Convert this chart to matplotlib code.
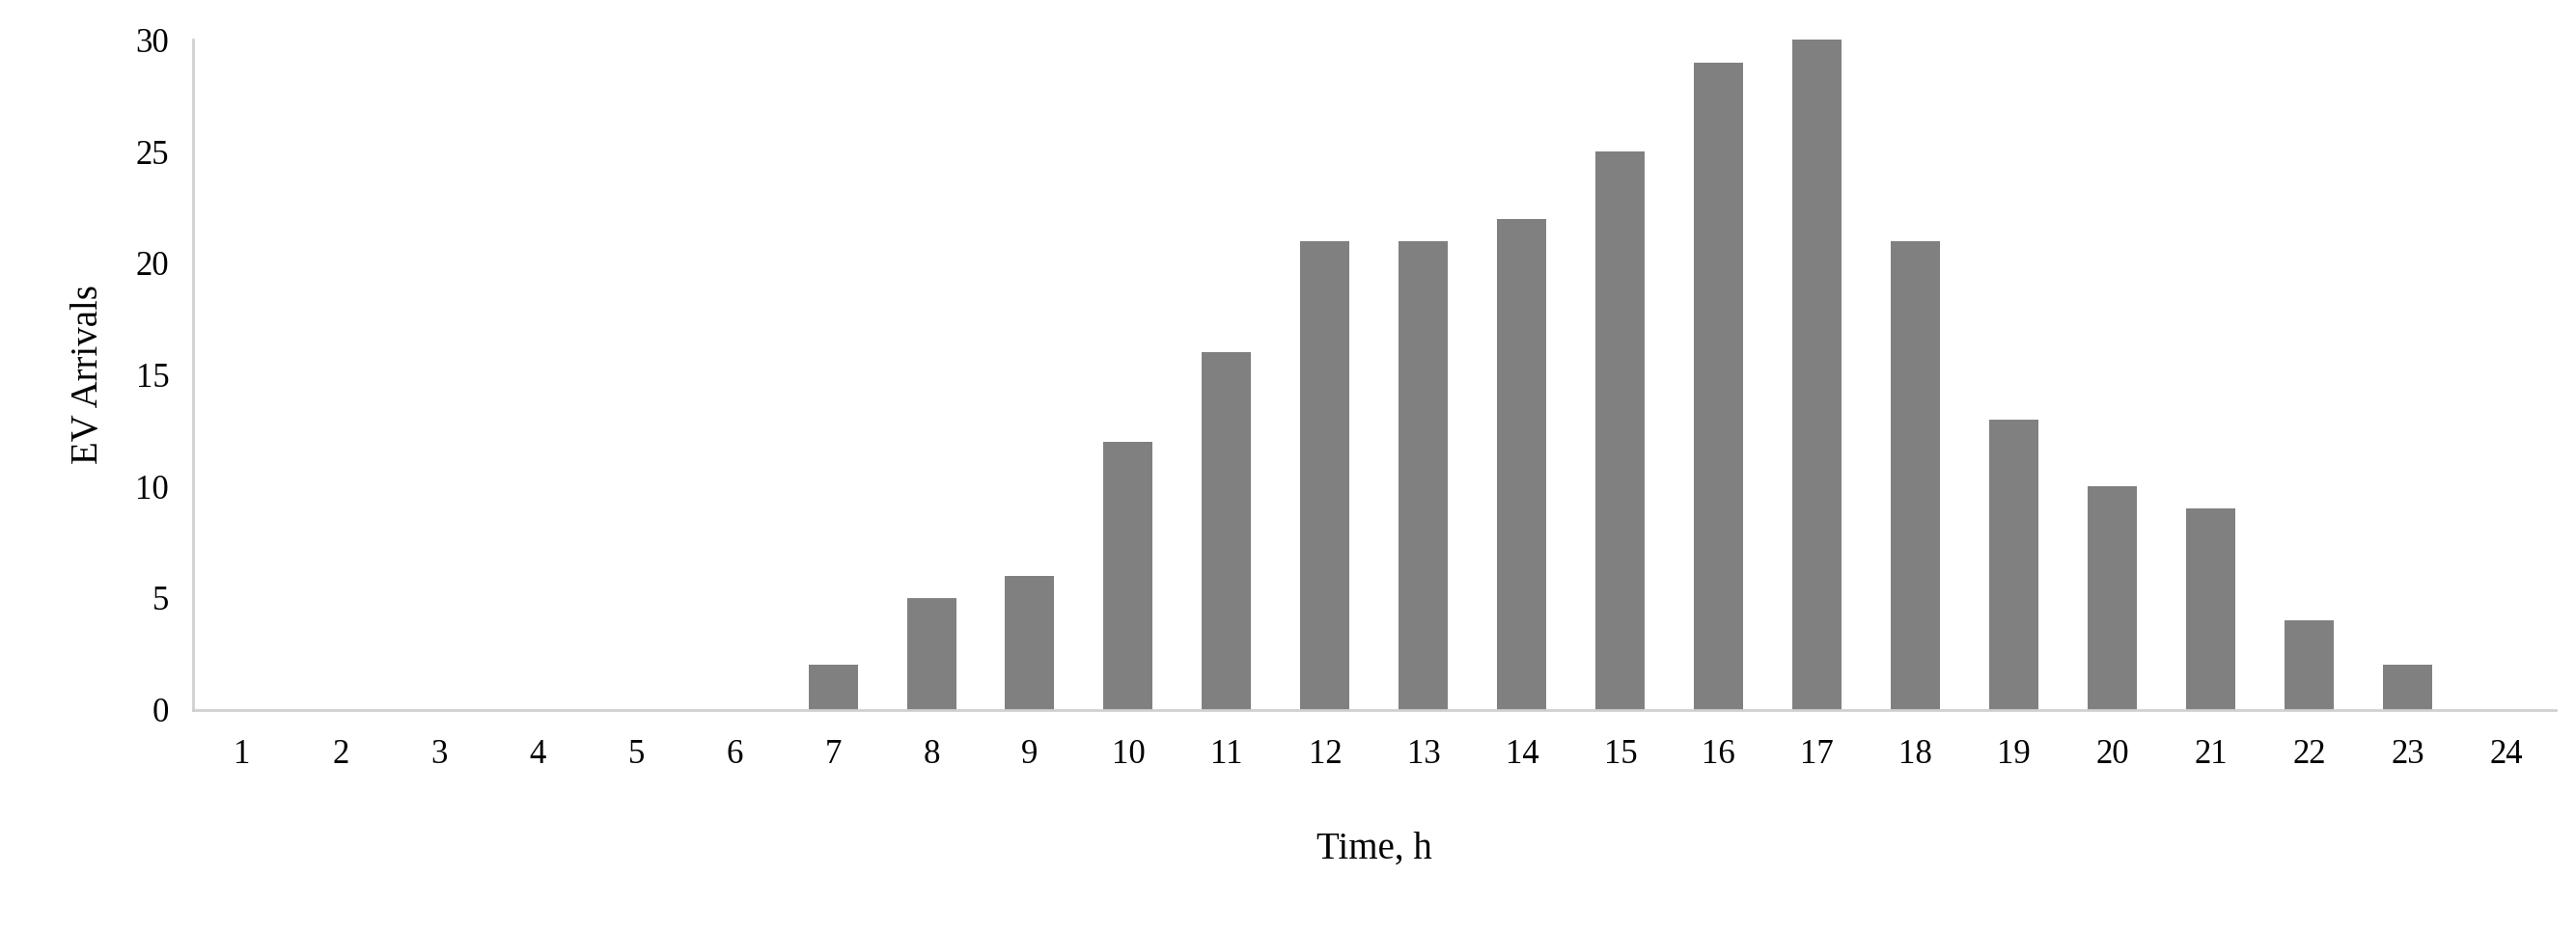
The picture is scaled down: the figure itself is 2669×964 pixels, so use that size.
import matplotlib
matplotlib.use("Agg")
import matplotlib.pyplot as plt

hours = list(range(1, 25))
arrivals = [0,0,0,0,0,0,2,5,6,12,16,21,21,22,25,29,30,21,13,10,9,4,2,0]
yticks = [0,5,10,15,20,25,30]

plt.rcParams['font.family'] = ['Liberation Serif', 'DejaVu Serif']
fig = plt.figure(figsize=(26.69, 9.64), dpi=100)
ax = fig.add_axes([0.075, 0.237, 0.917, 0.72])
ax.bar(hours, arrivals, width=0.5, color='#808080')
ax.set_xlim(0.5, 24.5)
ax.set_ylim(0, 30)
ax.set_xticks(hours)
ax.set_xticklabels([str(h) for h in hours])
ax.set_yticks(yticks)
ax.tick_params(length=0, labelsize=25)
ax.tick_params(axis='x', pad=22)
ax.tick_params(axis='y', pad=18)
for s in ['top', 'right']:
    ax.spines[s].set_visible(False)
for s in ['left', 'bottom']:
    ax.spines[s].set_color('#d0d0d0')
    ax.spines[s].set_linewidth(2)
ax.set_xlabel('Time, h', fontsize=28, labelpad=45)
ax.set_ylabel('EV Arrivals', fontsize=28, labelpad=22)
fig.savefig('out.png', dpi=100)
